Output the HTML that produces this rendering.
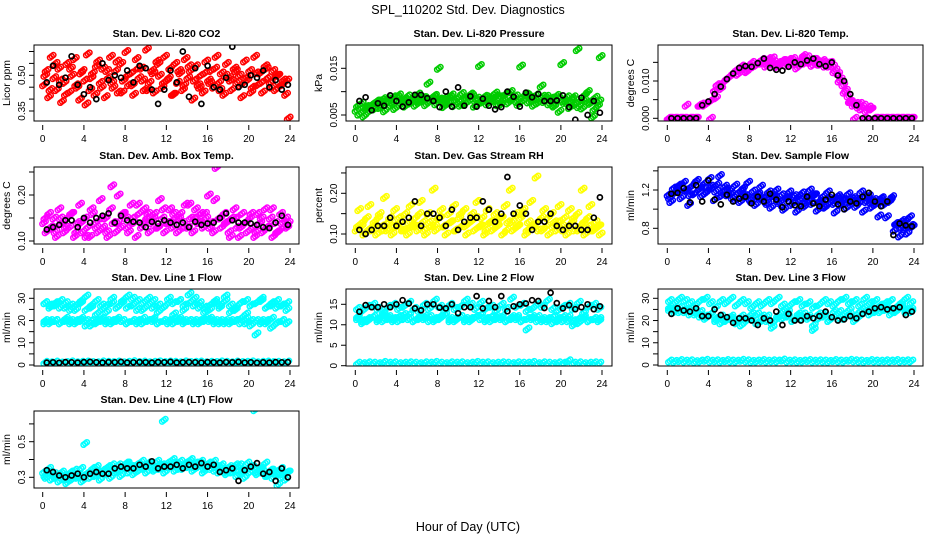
<!DOCTYPE html>
<html><head><meta charset="utf-8"><style>
html,body{margin:0;padding:0;background:#fff;}
svg{display:block;font-family:"Liberation Sans",sans-serif;}
</style></head><body>
<svg id="chart" width="936" height="540" viewBox="0 0 936 540">
<text x="468" y="14" text-anchor="middle" font-size="12.5">SPL_110202  Std. Dev. Diagnostics</text>
<text x="468" y="531" text-anchor="middle" font-size="12.5">Hour of Day (UTC)</text>
</svg>
<script>
// ---------- data ----------
const hourTicks = [0,4,8,12,16,20,24];
const co2Red = [0.46,0.52,0.41,0.58,0.49,0.44,0.53,0.39,0.47,0.55,0.43,0.50,0.57,0.45,0.40,0.52,0.48,0.59,0.44,0.51,0.42,0.56,0.47,0.53,0.41,0.49,0.58,0.45,0.52,0.43,0.55,0.48,0.60,0.46,0.51,0.42,0.57,0.49,0.53,0.44,0.61,0.47,0.52,0.43,0.56,0.50,0.45,0.58,0.48,0.53,0.42,0.55,0.47,0.51,0.44,0.57,0.49,0.52,0.40,0.54,0.46,0.50,0.43,0.56,0.48,0.52,0.45,0.58,0.47,0.51,0.42,0.55,0.49,0.44,0.53,0.47,0.50,0.41,0.56,0.48,0.52,0.45,0.58,0.46,0.51,0.43,0.54,0.49,0.47,0.52,0.44,0.50,0.46,0.48,0.42,0.32];
const co2Red2 = [0.50,0.44,0.55,0.48,0.42,0.53,0.46,0.51,0.38,0.49,0.54,0.45,0.52,0.47,0.56,0.43,0.50,0.46,0.53,0.48,0.44,0.51,0.55,0.47,0.49,0.42,0.52,0.46,0.54,0.48,0.45,0.51,0.47,0.53,0.44,0.50,0.48,0.52,0.46,0.49,0.43,0.51,0.47,0.53,0.45,0.50,0.46,0.48];
const co2Black = [0.47,0.54,0.46,0.49,0.58,0.46,0.42,0.45,0.40,0.55,0.48,0.50,0.49,0.52,0.47,0.54,0.53,0.44,0.38,0.44,0.52,0.47,0.60,0.41,0.53,0.38,0.54,0.45,0.44,0.49,0.62,0.45,0.46,0.50,0.49,0.52,0.45,0.48,0.44,0.46];
const presGreen = [0.0060,0.0052,0.0075,0.0048,0.0068,0.0058,0.0072,0.0063,0.0080,0.0066,0.0074,0.0059,0.0085,0.0070,0.0078,0.0064,0.0088,0.0073,0.0082,0.0069,0.0091,0.0076,0.0084,0.0071,0.0095,0.0079,0.0087,0.0072,0.0118,0.0081,0.0090,0.0074,0.0150,0.0083,0.0068,0.0088,0.0077,0.0093,0.0070,0.0085,0.0079,0.0096,0.0073,0.0088,0.0081,0.0092,0.0069,0.0086,0.0156,0.0078,0.0090,0.0074,0.0087,0.0080,0.0097,0.0072,0.0089,0.0083,0.0094,0.0076,0.0100,0.0084,0.0091,0.0073,0.0155,0.0082,0.0095,0.0078,0.0088,0.0071,0.0093,0.0085,0.0112,0.0079,0.0090,0.0074,0.0086,0.0069,0.0092,0.0058,0.0160,0.0077,0.0089,0.0066,0.0083,0.0072,0.0190,0.0080,0.0065,0.0094,0.0100,0.0075,0.0046,0.0088,0.0070,0.0175];
const presGreen2 = [0.0070,0.0058,0.0066,0.0074,0.0080,0.0085,0.0078,0.0089,0.0093,0.0083,0.0076,0.0090,0.0081,0.0087,0.0079,0.0092,0.0084,0.0075,0.0088,0.0082,0.0071,0.0086,0.0095,0.0080,0.0077,0.0089,0.0083,0.0091,0.0074,0.0097,0.0085,0.0079,0.0088,0.0093,0.0082,0.0076,0.0090,0.0084,0.0072,0.0087,0.0081,0.0075,0.0089,0.0068,0.0083,0.0078,0.0062,0.0080];
const presBlack = [0.0080,0.0088,0.0060,0.0075,0.0070,0.0092,0.0080,0.0068,0.0077,0.0093,0.0093,0.0086,0.0080,0.0067,0.0100,0.0068,0.0109,0.0070,0.0090,0.0068,0.0085,0.0070,0.0062,0.0067,0.0100,0.0089,0.0068,0.0098,0.0088,0.0095,0.0080,0.0080,0.0081,0.0092,0.0067,0.0040,0.0087,0.0050,0.0080,0.0055];
const tempMag = [0,0,0,0,0,0,0,0.0035,0,0,0,0,0.0035,0.0038,0.0035,0.0040,0.0045,0.0050,0.0075,0.0090,0.0085,0.0095,0.0100,0.0108,0.0112,0.0120,0.0125,0.0118,0.0130,0.0135,0.0128,0.0140,0.0145,0.0138,0.0142,0.0150,0.0148,0.0155,0.0140,0.0160,0.0145,0.0152,0.0138,0.0150,0.0147,0.0155,0.0142,0.0158,0.0145,0.0150,0.0135,0.0153,0.0160,0.0148,0.0165,0.0150,0.0142,0.0158,0.0152,0.0145,0.0155,0.0140,0.0148,0.0150,0.0140,0.0130,0.0120,0.0105,0.0090,0.0075,0.0060,0.0045,0.0035,0.0040,0.0030,0.0025,0.0035,0.0020,0.0030,0.0025,0,0,0,0,0,0,0,0,0,0,0,0,0,0,0,0];
const tempMag2 = [0,0,0,0,0,0,0.0035,0.0040,0,0.0055,0.0080,0.0105,0.0115,0.0130,0.0140,0.0125,0.0150,0.0145,0.0158,0.0148,0.0162,0.0143,0.0155,0.0150,0.0160,0.0147,0.0168,0.0152,0.0158,0.0145,0.0150,0.0140,0.0125,0.0100,0.0070,0.0045,0,0.0040,0,0.0025,0,0,0,0,0,0,0,0];
const tempBlack = [0,0,0,0,0,0.0035,0.0045,0.0065,0.0085,0.0105,0.0120,0.0135,0.0140,0.0138,0.0148,0.0160,0.0135,0.0130,0.0128,0.0138,0.0150,0.0145,0.0155,0.0160,0.0145,0.0140,0.0150,0.0115,0.0100,0.0065,0.0035,0,0,0,0,0,0,0,0,0];
const ambMag = [0.14,0.12,0.16,0.13,0.15,0.11,0.17,0.14,0.12,0.15,0.13,0.16,0.11,0.14,0.18,0.12,0.15,0.13,0.11,0.16,0.14,0.12,0.19,0.13,0.15,0.11,0.17,0.14,0.12,0.20,0.13,0.16,0.15,0.12,0.18,0.14,0.11,0.16,0.13,0.17,0.15,0.12,0.14,0.16,0.13,0.19,0.15,0.12,0.14,0.17,0.13,0.15,0.12,0.16,0.14,0.18,0.13,0.15,0.12,0.17,0.14,0.16,0.13,0.15,0.20,0.14,0.12,0.26,0.15,0.13,0.16,0.14,0.12,0.15,0.17,0.13,0.11,0.16,0.14,0.12,0.15,0.13,0.11,0.16,0.14,0.12,0.17,0.13,0.15,0.11,0.14,0.12,0.16,0.13,0.15,0.14];
const ambMag2 = [0.15,0.13,0.12,0.15,0.13,0.16,0.12,0.14,0.11,0.17,0.13,0.15,0.12,0.22,0.14,0.16,0.13,0.15,0.18,0.14,0.16,0.15,0.13,0.17,0.14,0.16,0.15,0.13,0.18,0.15,0.14,0.16,0.13,0.19,0.15,0.14,0.11,0.15,0.13,0.14,0.16,0.12,0.15,0.13,0.17,0.12,0.14,0.13];
const ambBlack = [0.125,0.13,0.135,0.145,0.145,0.13,0.15,0.14,0.15,0.155,0.160,0.140,0.155,0.145,0.142,0.14,0.130,0.142,0.138,0.145,0.140,0.135,0.140,0.130,0.142,0.135,0.138,0.140,0.15,0.16,0.145,0.140,0.14,0.138,0.135,0.13,0.128,0.14,0.155,0.135];
const rhYel = [0.11,0.16,0.12,0.10,0.14,0.17,0.11,0.13,0.10,0.15,0.12,0.19,0.11,0.14,0.10,0.16,0.12,0.13,0.11,0.15,0.10,0.17,0.12,0.14,0.11,0.18,0.13,0.10,0.15,0.12,0.21,0.11,0.14,0.16,0.12,0.10,0.15,0.13,0.17,0.11,0.14,0.12,0.16,0.10,0.13,0.15,0.11,0.18,0.12,0.14,0.10,0.16,0.13,0.11,0.15,0.12,0.14,0.10,0.17,0.13,0.21,0.11,0.15,0.12,0.14,0.16,0.10,0.13,0.18,0.12,0.24,0.11,0.14,0.16,0.12,0.10,0.15,0.13,0.11,0.17,0.12,0.14,0.10,0.16,0.13,0.11,0.15,0.12,0.21,0.10,0.14,0.17,0.11,0.13,0.12,0.10];
const rhYel2 = [0.12,0.13,0.11,0.12,0.14,0.11,0.13,0.12,0.14,0.11,0.13,0.12,0.15,0.11,0.13,0.12,0.14,0.12,0.13,0.11,0.15,0.12,0.13,0.14,0.12,0.11,0.13,0.12,0.14,0.11,0.13,0.12,0.15,0.11,0.12,0.13,0.11,0.14,0.12,0.13,0.11,0.12,0.14,0.11,0.13,0.12,0.11,0.12];
const rhBlack = [0.11,0.10,0.11,0.12,0.12,0.14,0.12,0.13,0.14,0.18,0.12,0.15,0.15,0.14,0.12,0.16,0.11,0.13,0.14,0.14,0.18,0.16,0.13,0.15,0.24,0.15,0.17,0.15,0.11,0.13,0.13,0.15,0.12,0.11,0.12,0.12,0.11,0.11,0.14,0.19];
const flowBlue = [1.15,1.08,1.22,1.18,1.25,1.12,1.28,1.20,1.05,1.24,1.16,1.30,1.21,1.14,1.27,1.19,1.32,1.22,1.10,1.26,1.35,1.18,1.24,1.15,1.20,1.12,1.25,1.17,1.08,1.22,1.14,1.28,1.10,1.19,1.05,1.16,1.24,1.12,1.08,1.18,1.02,1.14,1.20,1.07,1.15,1.00,1.12,1.18,1.05,1.14,0.98,1.10,1.17,1.03,1.12,1.20,1.06,1.15,0.99,1.08,1.13,1.02,1.18,1.07,1.11,0.97,1.14,1.05,1.10,1.01,1.16,1.08,1.12,1.03,1.10,1.18,0.98,1.08,1.14,1.02,1.10,1.06,0.93,1.12,1.05,0.92,1.08,1.13,0.78,0.85,0.72,0.88,0.80,0.75,0.92,0.82];
const flowBlue2 = [1.12,1.18,1.25,1.20,1.15,1.28,1.22,1.17,1.24,1.19,1.14,1.21,1.16,1.10,1.19,1.13,1.08,1.15,1.11,1.06,1.14,1.09,1.04,1.12,1.07,1.13,1.05,1.10,1.15,1.08,1.03,1.11,1.06,1.12,1.09,1.04,1.10,1.07,1.13,1.08,1.05,1.11,1.07,1.10,0.85,0.80,0.88,0.83];
const flowBlack = [1.16,1.17,1.22,1.07,1.25,1.08,1.30,1.10,1.05,1.15,1.08,1.11,1.13,1.06,1.13,1.08,1.16,1.10,1.02,1.08,1.04,1.03,1.13,1.06,1.03,1.10,1.15,1.05,1.00,1.08,1.06,1.13,1.17,1.08,1.03,1.08,0.73,0.85,0.83,0.82];
const line1Top = [28,27,28,29,26,27,25,28,31,26,29,27,24,28,26,29,31,27,25,28,30,29,27,26,30,28,29,27,32,30,28,26,25,29,27,31,24,26,28,29,27,28,30,26,27,29,27,28];
const line1Top2 = [28,26,27,26,28,25,27,29,25,27,23,25,27,30,26,28,26,30,29,25,27,26,24,26,28,23,29,25,28,27,26,24,27,28,26,29,27,25,28,23,27,28,29,26,28,26,27,25];
const line1Mid = [20,19,20,19,20,20,19,21,20,18,20,20,19,20,21,20,19,20,20,19,20,21,19,20,20,19,21,20,20,19,20,20,21,19,20,19,20,20,19,21,20,14,20,19,17,19,20,19];
const line1Mid2 = [19,20,20,19,21,19,20,20,18,20,19,21,20,19,20,20,19,20,19,21,20,20,19,20,19,21,20,19,20,20,19,21,20,20,19,20,19,20,21,19,18,20,19,20,21,19,20,19];
const line1Low = [1.2,1.0,1.3,0.9,1.1,1.4,1.0,1.2,1.3,1.1,1.0,1.4,1.2,1.1,1.3,1.0,1.2,1.5,1.1,1.3,1.0,1.2,1.4,1.1,1.3,1.2,1.0,1.4,1.1,1.2,1.3,1.0,1.2,1.1,1.4,1.2,1.0,1.3,1.1,1.2,1.4,1.0,1.2,1.3,1.1,1.2,1.0,1.3];
const line1Black = [1.1,1.2,1.0,1.3,1.2,1.1,1.3,1.4,1.2,1.1,1.3,1.2,1.4,1.1,1.2,1.3,1.2,1.1,1.3,1.2,1.4,1.1,1.2,1.3,1.2,1.1,1.3,1.2,1.1,1.3,1.2,1.4,1.1,1.2,1.0,1.2,1.1,1.3,1.2,1.3];
const line2Top = [14,13.5,14.5,15,14,13,14.5,15,14,14.5,15.5,14,13.5,15,14,16,14.5,13.5,15,14,14.5,16,15,14,15.5,14,14.5,13.5,15,14,16.5,14.5,15,13.5,14,15,14.5,16,14,13.5,14.5,15,14,15.5,13,14.5,15,14];
const line2Mid = [11.5,10.5,11,12,11.5,11,12,11.5,11,12.5,11.5,11,12,11.5,12,11,11.5,12.5,11,11.5,12,11,11.5,12,11.5,11,12,11.5,12,11,11.5,12,11,11.5,12,11,11.5,11,12,11.5,11,12,11,10.5,11.5,11,11.5,11];
const line2Mid2 = [12,11,11.5,12,11,12.5,11.5,11,12,11.5,12.5,11,11.5,12,11,11.5,12,12.5,11.5,11,12,11.5,11,12,12.5,11.5,11,12,11.5,11,12,11.5,11,9,11.5,12,11,11.5,10.5,11,12,11,10,11.5,12,11,11.5,11.5];
const line2Low = [0.6,0.5,0.7,0.6,0.5,0.8,0.6,0.7,0.5,0.6,0.7,0.6,0.5,0.7,0.6,0.8,0.6,0.5,0.7,0.6,0.7,0.5,0.6,0.8,0.6,0.7,0.5,0.6,0.7,0.6,0.5,0.7,0.6,0.6,0.8,0.5,0.7,0.6,0.5,0.7,0.6,1.2,0.6,0.7,0.5,0.6,0.7,0.6];
const line2Black = [13.2,14.8,14.3,14.3,15,14.3,15,16,15.2,14,13.5,15,15,14.2,14,15,12.8,14.3,14.3,17,14,15.8,14.3,17,13.3,14.5,15,15.2,16,15.8,14.1,17.8,15.3,14,14.8,13.8,14.3,15,13.8,14.5];
const line3Top = [29,28,30,29,28,27,29,30,28,26,29,28,30,27,29,28,26,28,27,29,28,30,27,26,28,29,27,28,26,27,29,28,27,29,30,28,29,27,30,28,29,27,28,29,26,28,30,28];
const line3Mid = [25,24,26,24,25,23,24,22,23,21,22,20,21,19,22,20,21,23,20,22,19,21,24,22,20,23,21,22,18,21,23,20,22,24,21,23,20,22,24,23,25,24,26,25,24,26,25,24];
const line3Mid2 = [26,25,24,25,23,24,22,21,23,20,19,21,22,20,18,21,23,19,22,20,17,22,21,24,20,22,23,21,16,23,22,20,24,21,23,25,22,24,26,25,24,26,25,23,25,27,24,25];
const line3Low = [1.8,1.6,2.0,1.7,1.9,1.5,1.8,2.1,1.7,1.9,1.6,2.0,1.8,1.7,2.1,1.9,1.6,1.8,2.0,1.7,1.9,1.8,2.2,1.7,1.9,1.6,1.8,2.0,1.7,1.9,1.8,1.6,2.0,1.8,1.7,2.1,1.9,1.8,1.6,2.0,1.8,1.7,1.9,1.8,2.0,1.7,1.9,1.8];
const line3Black = [23,25.5,24.5,24,25.5,22,22,25,22.5,21.5,19,21,21,20,18,21,20,24,18,23,20,20,22,21,22,24,21.5,20,20.5,22,21,23,24,25.5,26,25,25.5,26,22.5,24];
const line4Cyan = [0.33,0.30,0.35,0.29,0.32,0.31,0.28,0.33,0.30,0.27,0.32,0.29,0.34,0.30,0.31,0.28,0.49,0.32,0.30,0.35,0.31,0.33,0.29,0.34,0.32,0.36,0.30,0.34,0.33,0.37,0.31,0.35,0.38,0.33,0.36,0.32,0.37,0.34,0.39,0.35,0.33,0.38,0.36,0.34,0.39,0.35,0.37,0.33,0.38,0.36,0.40,0.34,0.37,0.39,0.35,0.38,0.36,0.40,0.34,0.38,0.36,0.39,0.33,0.37,0.38,0.35,0.39,0.36,0.33,0.37,0.34,0.32,0.36,0.33,0.35,0.31,0.37,0.34,0.30,0.38,0.33,0.36,0.68,0.32,0.35,0.33,0.38,0.31,0.34,0.30,0.33,0.26,0.35,0.32,0.29,0.33];
const line4Cyan2 = [0.31,0.33,0.30,0.32,0.29,0.33,0.31,0.35,0.32,0.34,0.36,0.33,0.35,0.37,0.34,0.36,0.38,0.35,0.37,0.36,0.38,0.35,0.37,0.62,0.36,0.38,0.35,0.37,0.39,0.36,0.38,0.35,0.37,0.34,0.36,0.33,0.35,0.37,0.32,0.34,0.36,0.33,0.35,0.31,0.34,0.32,0.30,0.33];
const line4Black = [0.34,0.33,0.31,0.30,0.31,0.32,0.30,0.32,0.33,0.32,0.32,0.35,0.36,0.35,0.35,0.37,0.36,0.39,0.35,0.36,0.36,0.37,0.35,0.37,0.36,0.38,0.36,0.37,0.33,0.34,0.35,0.28,0.34,0.36,0.38,0.32,0.33,0.28,0.35,0.30];

// ---------- layout ----------
const cols = [{l:34,r:299,x0:42.7,x24:290},{l:346,r:612,x0:355.3,x24:602},{l:658,r:923,x0:667.3,x24:914}];
const rows = [{t:45,b:121},{t:167,b:244},{t:289,b:366},{t:411,b:488}];
const CYAN='#00ffff';
const panels = [
 {key:'co2',title:'Stan. Dev. Li-820 CO2',ylab:'Licor ppm',c:0,r:0,ref:[0.50,75.3,0.35,111],ticks:[0.35,0.40,0.45,0.50,0.55,0.60],labels:['0.35','0.50'],color:'#ff0000',series:[co2Red,co2Red2],black:co2Black},
 {key:'pressure',title:'Stan. Dev. Li-820 Pressure',ylab:'kPa',c:1,r:0,ref:[0.005,115,0.015,68.3],ticks:[0.005,0.010,0.015],labels:['0.005','0.015'],color:'#00cc00',series:[presGreen,presGreen2],black:presBlack},
 {key:'temp',title:'Stan. Dev. Li-820 Temp.',ylab:'degrees C',c:2,r:0,ref:[0,118.3,0.010,81],ticks:[0,0.005,0.010,0.015],labels:['0.000','0.010'],color:'#ff00ff',series:[tempMag,tempMag2],black:tempBlack},
 {key:'ambbox',title:'Stan. Dev. Amb. Box Temp.',ylab:'degrees C',c:0,r:1,ref:[0.10,241,0.20,195],ticks:[0.10,0.15,0.20,0.25],labels:['0.10','0.20'],color:'#ff00ff',series:[ambMag,ambMag2],black:ambBlack},
 {key:'rh',title:'Stan. Dev. Gas Stream RH',ylab:'percent',c:1,r:1,ref:[0.10,234,0.20,193.3],ticks:[0.10,0.15,0.20,0.25],labels:['0.10','0.20'],color:'#ffff00',series:[rhYel,rhYel2],black:rhBlack},
 {key:'sampleflow',title:'Stan. Dev. Sample Flow',ylab:'ml/min',c:2,r:1,ref:[0.8,228.3,1.2,190],ticks:[0.8,1.0,1.2,1.4],labels:['0.8','1.2'],color:'#0000ff',series:[flowBlue,flowBlue2],black:flowBlack},
 {key:'line1',title:'Stan. Dev. Line 1 Flow',ylab:'ml/min',c:0,r:2,ref:[0,365,30,298.3],ticks:[0,5,10,15,20,25,30],labels:['0','10','20','30'],color:CYAN,series:[line1Top,line1Top2,line1Mid,line1Mid2,line1Low],black:line1Black},
 {key:'line2',title:'Stan. Dev. Line 2 Flow',ylab:'ml/min',c:1,r:2,ref:[0,365.7,15,304.3],ticks:[0,5,10,15],labels:['0','5','10','15'],color:CYAN,series:[line2Top,line2Mid,line2Mid2,line2Low],black:line2Black},
 {key:'line3',title:'Stan. Dev. Line 3 Flow',ylab:'ml/min',c:2,r:2,ref:[0,365,30,298.3],ticks:[0,5,10,15,20,25,30],labels:['0','10','20','30'],color:CYAN,series:[line3Top,line3Mid,line3Mid2,line3Low],black:line3Black},
 {key:'line4',title:'Stan. Dev. Line 4 (LT) Flow',ylab:'ml/min',c:0,r:3,ref:[0.3,477.3,0.5,441.7],ticks:[0.3,0.4,0.5,0.6],labels:['0.3','0.5'],color:CYAN,series:[line4Cyan,line4Cyan2],black:line4Black}
];
// marker overplot offsets (px) to mimic the dense overplotted cloud
const blob=[[0,0],[-1.7,1.3],[1.7,-1.3]];

const NS='http://www.w3.org/2000/svg';
const svg=document.getElementById('chart');
function mk(tag,attrs,parent){const e=document.createElementNS(NS,tag);for(const k in attrs)e.setAttribute(k,attrs[k]);(parent||svg).appendChild(e);return e;}

panels.forEach(p=>{
  const col=cols[p.c], row=rows[p.r];
  const g=mk('g',{});
  
  
  const xs=h=>col.x0+(col.x24-col.x0)*h/24;
  const k=(p.ref[3]-p.ref[1])/(p.ref[2]-p.ref[0]);
  const ys=v=>p.ref[1]+(v-p.ref[0])*k;
  const cid='clip-'+p.key;
  const cp=mk('clipPath',{id:cid},g);
  mk('rect',{x:col.l,y:row.t,width:col.r-col.l,height:row.b-row.t},cp);
  const t=mk('text',{x:(col.l+col.r)/2,y:row.t-8,'text-anchor':'middle','font-size':'10.5','font-weight':'bold'},g);
  t.textContent=p.title;
  
  
  const yl=mk('text',{x:0,y:0,'text-anchor':'middle','font-size':'10.5',transform:`translate(${col.l-24},${(row.t+row.b)/2}) rotate(-90)`},g);
  yl.textContent=p.ylab;
  
  
  const pg=mk('g',{'clip-path':`url(#${cid})`,fill:'none','stroke-width':'1.5'},g);
  p.series.forEach(arr=>{
    const n=arr.length;
    arr.forEach((v,i)=>{
      const cx=xs((i+0.5)*24/n), cy=ys(v);
      blob.forEach(o=>{
        const c=mk('circle',{cx:(cx+o[0]).toFixed(1),cy:(cy+o[1]).toFixed(1),r:2.5,stroke:p.color},pg);
        
        
      });
    });
  });
  p.black.forEach((v,i)=>{
    const c=mk('circle',{cx:xs(0.4+i*23.4/(p.black.length-1)).toFixed(1),cy:ys(v).toFixed(1),r:2.5,stroke:'#000','stroke-width':'1.7'},pg);
    
    
  });
  const b=mk('rect',{x:col.l,y:row.t,width:col.r-col.l,height:row.b-row.t,fill:'none',stroke:'#000','stroke-width':'1'},g);
  
  
  p.ticks.forEach(v=>{
    const y=ys(v);
    mk('line',{x1:col.l-5,x2:col.l,y1:y,y2:y,stroke:'#000'},g);
  });
  p.labels.forEach(s=>{
    const y=ys(parseFloat(s));
    const tl=mk('text',{x:0,y:0,'text-anchor':'middle','font-size':'10',transform:`translate(${col.l-9},${y}) rotate(-90)`},g);
    tl.textContent=s;
    
    
  });
  hourTicks.forEach(h=>{
    const x=xs(h);
    mk('line',{x1:x,x2:x,y1:row.b+4,y2:row.b+9,stroke:'#000'},g);
    const tl=mk('text',{x:x,y:row.b+21,'text-anchor':'middle','font-size':'10'},g);
    tl.textContent=String(h);
    
    
  });
});
</script>
</body></html>
